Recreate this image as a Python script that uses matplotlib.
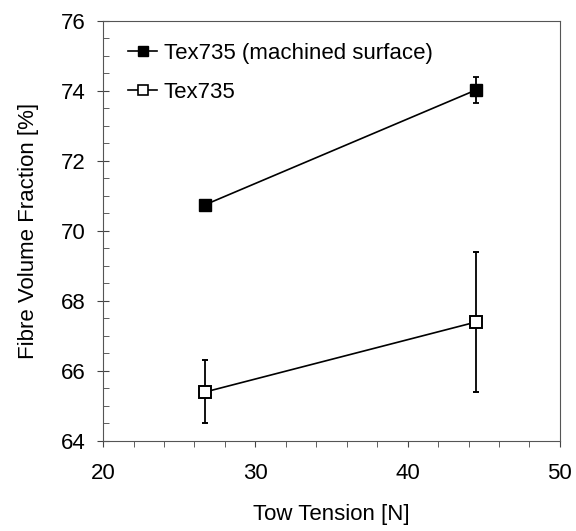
import matplotlib.pyplot as plt
from matplotlib.lines import Line2D
from matplotlib.ticker import MultipleLocator

plt.rcParams['font.family'] = ['Liberation Sans', 'DejaVu Sans']

tension = [26.7, 44.5]
vf_machined = [70.75, 74.03]
err_machined = [0.0, 0.38]
vf_plain = [65.4, 67.4]
err_plain = [0.9, 2.0]
labels = ['Tex735 (machined surface)', 'Tex735']

fig = plt.figure(figsize=(5.76, 5.31), dpi=100)
ax = fig.add_axes([0.179, 0.1695, 0.793, 0.791])

ax.errorbar(tension, vf_machined, yerr=err_machined, color='black', marker='s', markersize=8.5,
            markerfacecolor='black', markeredgecolor='black', lw=1.2, elinewidth=1.3, capsize=2.2,
            capthick=1.3)
ax.errorbar(tension, vf_plain, yerr=err_plain, color='black', marker='s', markersize=8.5,
            markerfacecolor='white', markeredgecolor='black', markeredgewidth=1.4, lw=1.2,
            elinewidth=1.3, capsize=2.2, capthick=1.3)

ax.set_xlim(20, 50)
ax.set_ylim(64, 76)
ax.xaxis.set_major_locator(MultipleLocator(10))
ax.xaxis.set_minor_locator(MultipleLocator(2))
ax.yaxis.set_major_locator(MultipleLocator(2))
ax.yaxis.set_minor_locator(MultipleLocator(0.5))
ax.tick_params(axis='x', which='both', direction='out', length=4, color='#444444',
               labelsize=16, pad=12)
ax.tick_params(axis='y', which='major', direction='inout', length=9, color='#444444',
               labelsize=16, pad=8)
ax.tick_params(axis='y', which='minor', direction='in', length=4, color='#444444')
for s in ax.spines.values():
    s.set_color('#555555')

ax.set_xlabel('Tow Tension [N]', fontsize=16, labelpad=14)
ax.set_ylabel('Fibre Volume Fraction [%]', fontsize=16, labelpad=16)

handles = [
    Line2D([], [], color='black', lw=1.2, marker='s', markersize=6.5,
           markerfacecolor='black', markeredgecolor='black'),
    Line2D([], [], color='black', lw=1.2, marker='s', markersize=6.5,
           markerfacecolor='white', markeredgecolor='black', markeredgewidth=1.2),
]
ax.legend(handles, labels, loc='upper left', bbox_to_anchor=(0.055, 0.948), frameon=False,
          fontsize=16, handlelength=1.3, handletextpad=0.3, borderpad=0, borderaxespad=0,
          labelspacing=0.8)

fig.savefig('out.png')
